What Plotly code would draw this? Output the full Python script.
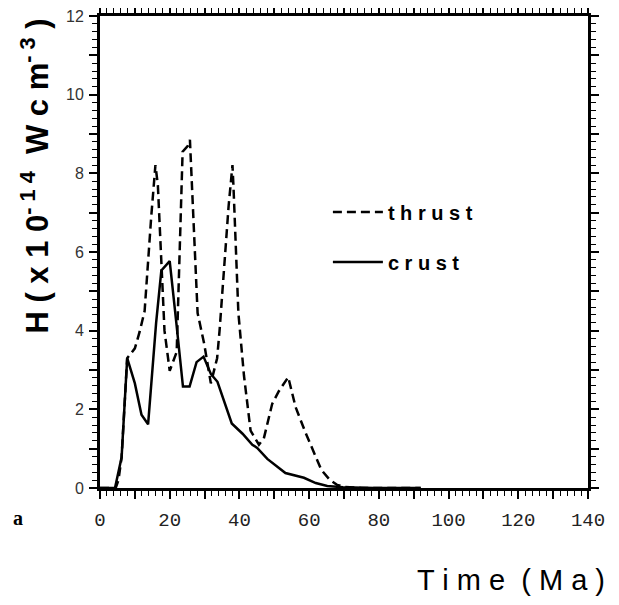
import plotly.graph_objects as go

# ---- data ----
time_thrust = [0, 4.5, 5.3, 6.2, 7.8, 8.6, 10.0, 11.4, 12.8, 14.7, 15.9, 16.6, 17.6, 18.5,
               20.0, 22.0, 23.7, 25.2, 25.8, 26.2, 28.0, 29.9, 31.8, 33.6, 34.3, 36.9,
               38.0, 38.3, 39.7, 41.3, 43.2, 45.6, 47.0, 49.4, 51.3, 54.0, 56.1, 58.9,
               63.5, 66.0, 68.0, 70.0, 75.0, 92.0]
h_thrust = [0, 0, 0.2, 0.78, 3.3, 3.4, 3.55, 3.98, 4.5, 6.9, 8.21, 7.7, 5.6, 4.0,
            2.98, 3.46, 8.55, 8.7, 8.85, 8.0, 4.45, 3.66, 2.66, 3.3, 4.0, 7.17,
            8.21, 7.65, 4.45, 2.86, 1.46, 1.10, 1.26, 2.14, 2.46, 2.82, 2.06, 1.42,
            0.46, 0.2, 0.08, 0.03, 0.0, 0.0]

time_crust = [0, 4.3, 6.2, 7.8, 10.0, 11.9, 13.8, 16.1, 17.6, 20.0, 21.9, 23.8, 25.7,
              27.7, 29.7, 31.8, 33.7, 37.8, 40.9, 43.7, 45.1, 48.0, 53.2, 55.1, 58.5,
              61.9, 65.2, 69.7, 78.7, 92.0]
h_crust = [0, 0, 0.78, 3.3, 2.66, 1.86, 1.62, 4.2, 5.53, 5.77, 4.2, 2.58, 2.58,
           3.2, 3.34, 2.9, 2.70, 1.64, 1.38, 1.10, 1.02, 0.74, 0.38, 0.34, 0.26,
           0.125, 0.05, 0.02, 0, 0]

x_tickvals = list(range(0, 141, 10))
x_ticktext = [str(v) if v % 20 == 0 else "" for v in x_tickvals]
y_tickvals = list(range(0, 13, 1))
y_ticktext = [str(v) if v % 2 == 0 else "" for v in y_tickvals]

fig = go.Figure()
fig.add_trace(go.Scatter(x=time_thrust, y=h_thrust, mode="lines", name="t h r u s t",
                         line=dict(color="black", width=2.5, dash="9px,5px"),
                         legend="legend"))
fig.add_trace(go.Scatter(x=time_crust, y=h_crust, mode="lines", name="c r u s t",
                         line=dict(color="black", width=2.5),
                         legend="legend2"))

axis_common = dict(showgrid=False, zeroline=False, showline=True, linecolor="black",
                   linewidth=3, mirror="allticks", ticks="outside", tickcolor="black",
                   ticklen=8, tickwidth=1.5, automargin=False, ticklabeloverflow="allow")

fig.update_xaxes(range=[0, 140], tickvals=x_tickvals, ticktext=x_ticktext,
                 tickfont=dict(family="Liberation Mono", size=19, color="#222"),
                 ticklabelstandoff=4,
                 minor=dict(dtick=2, ticks="outside", ticklen=5, tickwidth=1, tickcolor="black"),
                 **axis_common)
fig.update_yaxes(range=[0, 12], tickvals=y_tickvals, ticktext=y_ticktext,
                 tickfont=dict(family="Liberation Sans", size=16, color="#333"),
                 ticklabelstandoff=2,
                 minor=dict(dtick=0.2, ticks="outside", ticklen=5, tickwidth=1, tickcolor="black"),
                 **axis_common)

legend_font = dict(family="Liberation Sans", size=20, color="black", weight="bold")
fig.update_layout(
    width=611, height=597,
    margin=dict(l=92, r=31, t=8, b=117),
    plot_bgcolor="white", paper_bgcolor="white",
    showlegend=True,
    legend=dict(x=0.467, y=0.585, xanchor="left", yanchor="middle", bgcolor="rgba(0,0,0,0)",
                font=legend_font, itemwidth=50),
    legend2=dict(x=0.467, y=0.479, xanchor="left", yanchor="middle", bgcolor="rgba(0,0,0,0)",
                 font=legend_font, itemwidth=50),
    annotations=[
        dict(text="<b>H ( x 1 0<sup>- 1 4</sup>  W c m<sup>- 3</sup> )</b>", textangle=-90,
             xref="paper", yref="paper", x=-0.133, y=0.66, xanchor="center", yanchor="middle",
             showarrow=False, font=dict(family="Liberation Sans", size=31, color="black")),
        dict(text="T i m e \u00a0( M a )", xref="paper", yref="paper", x=1.039, y=-0.195,
             xanchor="right", yanchor="middle", showarrow=False,
             font=dict(family="Liberation Sans", size=29, color="black")),
        dict(text="<b>a</b>", xref="paper", yref="paper", x=-0.168, y=-0.064,
             xanchor="center", yanchor="middle", showarrow=False,
             font=dict(family="Liberation Serif", size=20, color="black")),
    ],
)

fig.write_html("out.html")
